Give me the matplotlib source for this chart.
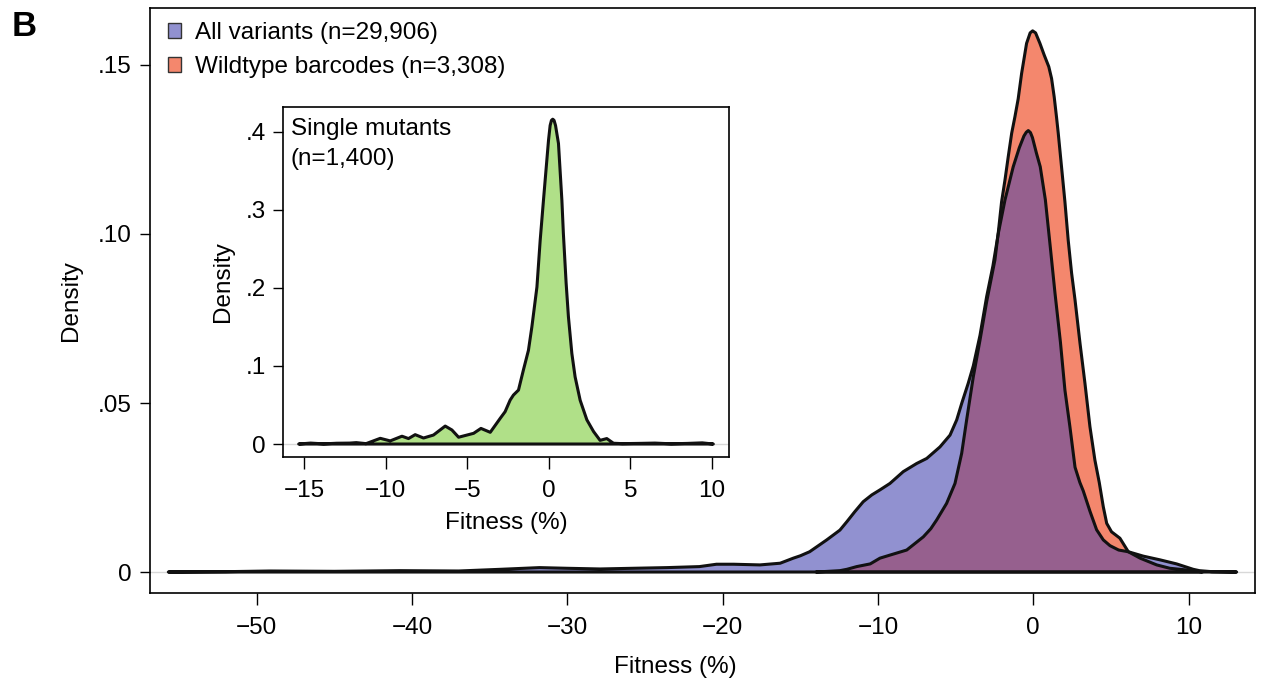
import numpy as np
import matplotlib
matplotlib.use("Agg")
import matplotlib.pyplot as plt
from matplotlib.patches import Polygon, Patch

plt.rcParams['font.family'] = ['Liberation Sans', 'DejaVu Sans']
plt.rcParams['font.size'] = 17.5

# ---- data -------------------------------------------------------------
# Density of fitness, all variants
all_x = [-55.7, -52.0, -49.15, -45.0, -40.8, -37.0, -34.3, -31.8, -30.0, -27.9,
         -25.8, -23.6, -21.5, -20.4, -19.3, -17.6, -16.3, -15.45, -15.0, -14.4,
         -13.3, -12.45, -12.0, -11.5, -10.95, -10.4, -9.87, -9.23, -8.37, -7.51,
         -6.86, -6.01, -5.36, -4.93, -4.6, -4.19, -3.86, -3.43, -3.0, -2.6,
         -2.25, -1.82, -1.29, -0.9, -0.6, -0.45, -0.32, -0.18, -0.05, 0.2,
         0.45, 0.78, 1.1, 1.4, 1.75, 2.04, 2.36, 2.69, 3.0, 3.22,
         3.65, 4.08, 4.51, 4.94, 5.5, 6.12, 7.08, 8.16, 9.23, 10.3,
         10.7, 11.5, 13.1]
all_y = [0.0, 0.0001, 0.0003, 0.0002, 0.0004, 0.0003, 0.0008, 0.0013, 0.0011, 0.0009,
         0.0011, 0.0013, 0.0016, 0.0023, 0.0023, 0.0021, 0.0026, 0.0041, 0.0048, 0.0060,
         0.0095, 0.0124, 0.0149, 0.0178, 0.0208, 0.0228, 0.0243, 0.0262, 0.0297, 0.0321,
         0.0336, 0.0370, 0.0405, 0.0450, 0.0500, 0.0558, 0.0610, 0.0700, 0.0815, 0.0905,
         0.1002, 0.1101, 0.1199, 0.1255, 0.1290, 0.1301, 0.1306, 0.1300, 0.1285, 0.1240,
         0.1199, 0.1101, 0.0960, 0.0825, 0.0680, 0.0538, 0.0430, 0.0310, 0.0265, 0.0240,
         0.0180, 0.0125, 0.0095, 0.0078, 0.0065, 0.0060, 0.0047, 0.0036, 0.0024, 0.0008,
         0.0004, 0.0001, 0.0]

# Density of fitness, wildtype barcodes
wt_x = [-14.0, -13.2, -12.45, -12.0, -11.37, -10.5, -9.87, -9.23, -8.15, -7.6,
        -7.08, -6.6, -6.22, -5.58, -5.04, -4.61, -4.29, -3.86, -3.43, -3.0,
        -2.47, -2.25, -2.04, -1.82, -1.61, -1.39, -1.18, -0.97, -0.75, -0.43,
        -0.2, -0.04, 0.15, 0.43, 0.7, 1.0, 1.18, 1.35, 1.5, 1.61,
        1.82, 2.04, 2.25, 2.47, 2.69, 3.01, 3.33, 3.65, 3.97, 4.25,
        4.51, 4.73, 5.04, 5.58, 6.12, 6.88, 7.95, 8.8, 10.3, 10.9]
wt_y = [0.0, 0.0002, 0.0004, 0.0008, 0.0016, 0.0024, 0.0041, 0.0050, 0.0065, 0.0085,
        0.0104, 0.0128, 0.0154, 0.0203, 0.0262, 0.0351, 0.0450, 0.0578, 0.0686, 0.0800,
        0.0923, 0.1005, 0.1095, 0.1160, 0.1229, 0.1298, 0.1347, 0.1400, 0.1475, 0.1564,
        0.1595, 0.1601, 0.1595, 0.1564, 0.1530, 0.1495, 0.1460, 0.1405, 0.1345, 0.1298,
        0.1199, 0.1095, 0.0982, 0.0884, 0.0805, 0.0677, 0.0558, 0.0430, 0.0331, 0.0265,
        0.0193, 0.0144, 0.0119, 0.0100, 0.0060, 0.0041, 0.0021, 0.0011, 0.0004, 0.0]

# Density of fitness, single mutants (inset)
sm_x = [-15.33, -14.6, -13.8, -13.0, -12.2, -11.8, -11.2, -10.33, -9.72, -9.0,
        -8.6, -8.19, -7.68, -7.07, -6.6, -6.35, -5.94, -5.53, -4.61, -4.16,
        -3.59, -2.98, -2.68, -2.37, -2.17, -1.86, -1.56, -1.25, -1.04, -0.73,
        -0.53, -0.33, -0.02, 0.08, 0.16, 0.24, 0.32, 0.41, 0.59, 0.80,
        0.89, 1.06, 1.2, 1.41, 1.61, 1.92, 2.33, 2.74, 3.14, 3.55,
        3.96, 4.5, 5.5, 6.5, 7.5, 8.5, 9.4, 10.08]
sm_y = [0.0, 0.0012, 0.0002, 0.0010, 0.0012, 0.0018, 0.0005, 0.0073, 0.0040, 0.0100,
        0.0070, 0.0120, 0.0077, 0.0115, 0.0190, 0.0230, 0.0180, 0.0087, 0.0137, 0.0200,
        0.0150, 0.0329, 0.0414, 0.0563, 0.0627, 0.0691, 0.0947, 0.1200, 0.1500, 0.2010,
        0.2610, 0.3120, 0.3890, 0.4080, 0.4145, 0.4160, 0.4145, 0.4080, 0.3850, 0.3120,
        0.2700, 0.2060, 0.1630, 0.1160, 0.0860, 0.0560, 0.0310, 0.0160, 0.0047, 0.0070,
        0.0010, 0.0005, 0.0008, 0.0012, 0.0003, 0.0008, 0.0015, 0.0]

labels = ["All variants (n=29,906)", "Wildtype barcodes (n=3,308)"]
inset_label = "Single mutants\n(n=1,400)"

BLUE = "#9191D0"
ORANGE = "#F4876D"
PURPLE = "#96608E"
GREEN = "#B0E088"
ZERO = "#D8D8D8"


def closed(x, y):
    x = np.asarray(x, float)
    y = np.asarray(y, float)
    return np.column_stack([np.r_[x[0], x, x[-1]], np.r_[0.0, y, 0.0]])


W, H = 1262, 684
fig = plt.figure(figsize=(W / 100, H / 100), dpi=100)

# ---- main panel -------------------------------------------------------
ax = fig.add_axes([150 / W, 1 - 593 / H, 1105 / W, 585 / H])
ax.set_xlim(-56.88, 14.28)
ax.set_ylim(-0.00621, 0.16686)
ax.axhline(0, color=ZERO, lw=1.0, zorder=0)

wt_fill = Polygon(closed(wt_x, wt_y), closed=True, facecolor=ORANGE, edgecolor='none', zorder=1)
ax.add_patch(wt_fill)
all_fill = Polygon(closed(all_x, all_y), closed=True, facecolor=BLUE, edgecolor='none', zorder=2)
ax.add_patch(all_fill)
# overlap of the two densities
overlap = Polygon(closed(wt_x, wt_y), closed=True, facecolor=PURPLE, edgecolor='none', zorder=3)
ax.add_patch(overlap)
overlap.set_clip_path(all_fill)

for xs, ys in ((all_x, all_y), (wt_x, wt_y)):
    ax.add_patch(Polygon(closed(xs, ys), closed=True, facecolor='none',
                         edgecolor='#111111', lw=2.2, joinstyle='round', zorder=4))

ax.set_xticks([-50, -40, -30, -20, -10, 0, 10])
ax.set_yticks([0, 0.05, 0.10, 0.15])
ax.set_yticklabels(['0', '.05', '.10', '.15'])
ax.tick_params(axis='x', direction='out', length=8.5, width=1.0, pad=9)
ax.tick_params(axis='y', direction='out', length=7.5, width=1.0, pad=6)
for s in ax.spines.values():
    s.set_linewidth(1.2)
ax.set_xlabel("Fitness (%)")
ax.xaxis.set_label_coords((675 - 150) / 1105, -(667 - 593) / 585)
ax.xaxis.label.set_va('center')
ax.set_ylabel("Density", labelpad=11)

handles = [Patch(facecolor=BLUE, edgecolor='#333333', lw=1.0),
           Patch(facecolor=ORANGE, edgecolor='#333333', lw=1.0)]
fig.legend(handles, labels, loc='upper left', bbox_to_anchor=(168 / W, 1 - 22 / H),
           frameon=False, handlelength=0.55, handleheight=0.55, handletextpad=0.55,
           labelspacing=0.5, borderpad=0, borderaxespad=0)

fig.text(12 / W, 1 - 10 / H, "B", fontsize=25, fontweight='bold', va='top', ha='left')

# ---- inset: single mutants -------------------------------------------
ins = fig.add_axes([283 / W, 1 - 457.3 / H, 446 / W, 350.6 / H])
ins.set_facecolor('white')
ins.set_xlim(-16.29, 11.04)
ins.set_ylim(-0.017, 0.432)
ins.axhline(0, color=ZERO, lw=1.0, zorder=0)
ins.add_patch(Polygon(closed(sm_x, sm_y), closed=True, facecolor=GREEN, edgecolor='none', zorder=2))
ins.add_patch(Polygon(closed(sm_x, sm_y), closed=True, facecolor='none',
                      edgecolor='#111111', lw=2.2, joinstyle='round', zorder=3))
ins.set_xticks([-15, -10, -5, 0, 5, 10])
ins.set_yticks([0, 0.1, 0.2, 0.3, 0.4])
ins.set_yticklabels(['0', '.1', '.2', '.3', '.4'])
ins.tick_params(axis='x', direction='out', length=8.5, width=1.0, pad=8)
ins.tick_params(axis='y', direction='out', length=7.5, width=1.0, pad=5)
for s in ins.spines.values():
    s.set_linewidth(1.2)
ins.set_xlabel("Fitness (%)", labelpad=7)
ins.set_ylabel("Density", labelpad=8)
ins.text(0.017, 0.968, inset_label, transform=ins.transAxes, ha='left', va='top',
         linespacing=1.45)

fig.savefig("out.png", dpi=100)
